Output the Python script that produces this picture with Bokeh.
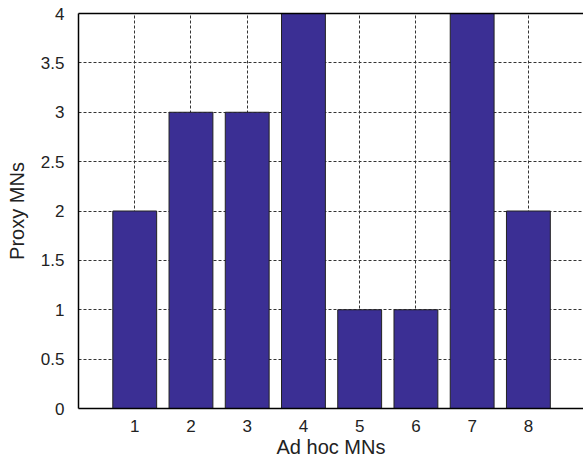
from bokeh.plotting import figure
from bokeh.models import Range1d, LinearAxis, FixedTicker, ColumnDataSource
from bokeh.embed import file_html
from bokeh.resources import INLINE

categories = [1, 2, 3, 4, 5, 6, 7, 8]
proxy_mns = [2, 3, 3, 4, 1, 1, 4, 2]
y_ticks = [0, 0.5, 1, 1.5, 2, 2.5, 3, 3.5, 4]
y_tick_labels = ["0", "0.5", "1", "1.5", "2", "2.5", "3", "3.5", "4"]

FONT = "Liberation Sans"

p = figure(width=583, height=461, output_backend="svg", toolbar_location=None,
           x_range=Range1d(0, 8.98), y_range=Range1d(0, 4),
           min_border_left=78, min_border_right=0, min_border_top=13, min_border_bottom=53,
           x_axis_label="Ad hoc MNs", y_axis_label="Proxy MNs")
p.outline_line_color = None
p.background_fill_color = "white"

src = ColumnDataSource(dict(x=categories, top=proxy_mns))
p.vbar(x="x", top="top", width=0.78, bottom=0, source=src,
       fill_color="#3b2f94", line_color="#222222", line_width=1)

for ax in (p.xaxis[0], p.yaxis[0]):
    ax.axis_line_color = "black"
    ax.axis_line_width = 1.5
    ax.major_tick_line_color = None
    ax.minor_tick_line_color = None
    ax.major_label_text_font = FONT
    ax.major_label_text_font_size = "17px"
    ax.major_label_text_color = "#222222"
    ax.axis_label_text_font = FONT
    ax.axis_label_text_font_size = "20px"
    ax.axis_label_text_font_style = "normal"
    ax.axis_label_text_color = "#222222"
    ax.major_label_standoff = 8

p.xaxis[0].ticker = FixedTicker(ticks=categories)
p.xaxis[0].major_label_standoff = 5
p.xaxis[0].axis_label_standoff = 1
p.yaxis[0].ticker = FixedTicker(ticks=y_ticks)
p.yaxis[0].major_label_overrides = {t: l for t, l in zip(y_ticks, y_tick_labels)}
p.yaxis[0].axis_label_standoff = 10

top = LinearAxis(ticker=FixedTicker(ticks=[]), major_label_text_font_size="0px",
                 axis_line_color="black", axis_line_width=1.5,
                 major_tick_line_color=None, minor_tick_line_color=None)
p.add_layout(top, "above")

p.xgrid.ticker = FixedTicker(ticks=categories)
p.ygrid.ticker = FixedTicker(ticks=y_ticks)
for g in (p.xgrid[0], p.ygrid[0]):
    g.grid_line_color = "#333333"
    g.grid_line_dash = "3 2"
    g.grid_line_width = 1

open("out.html", "w").write(file_html(p, INLINE))
